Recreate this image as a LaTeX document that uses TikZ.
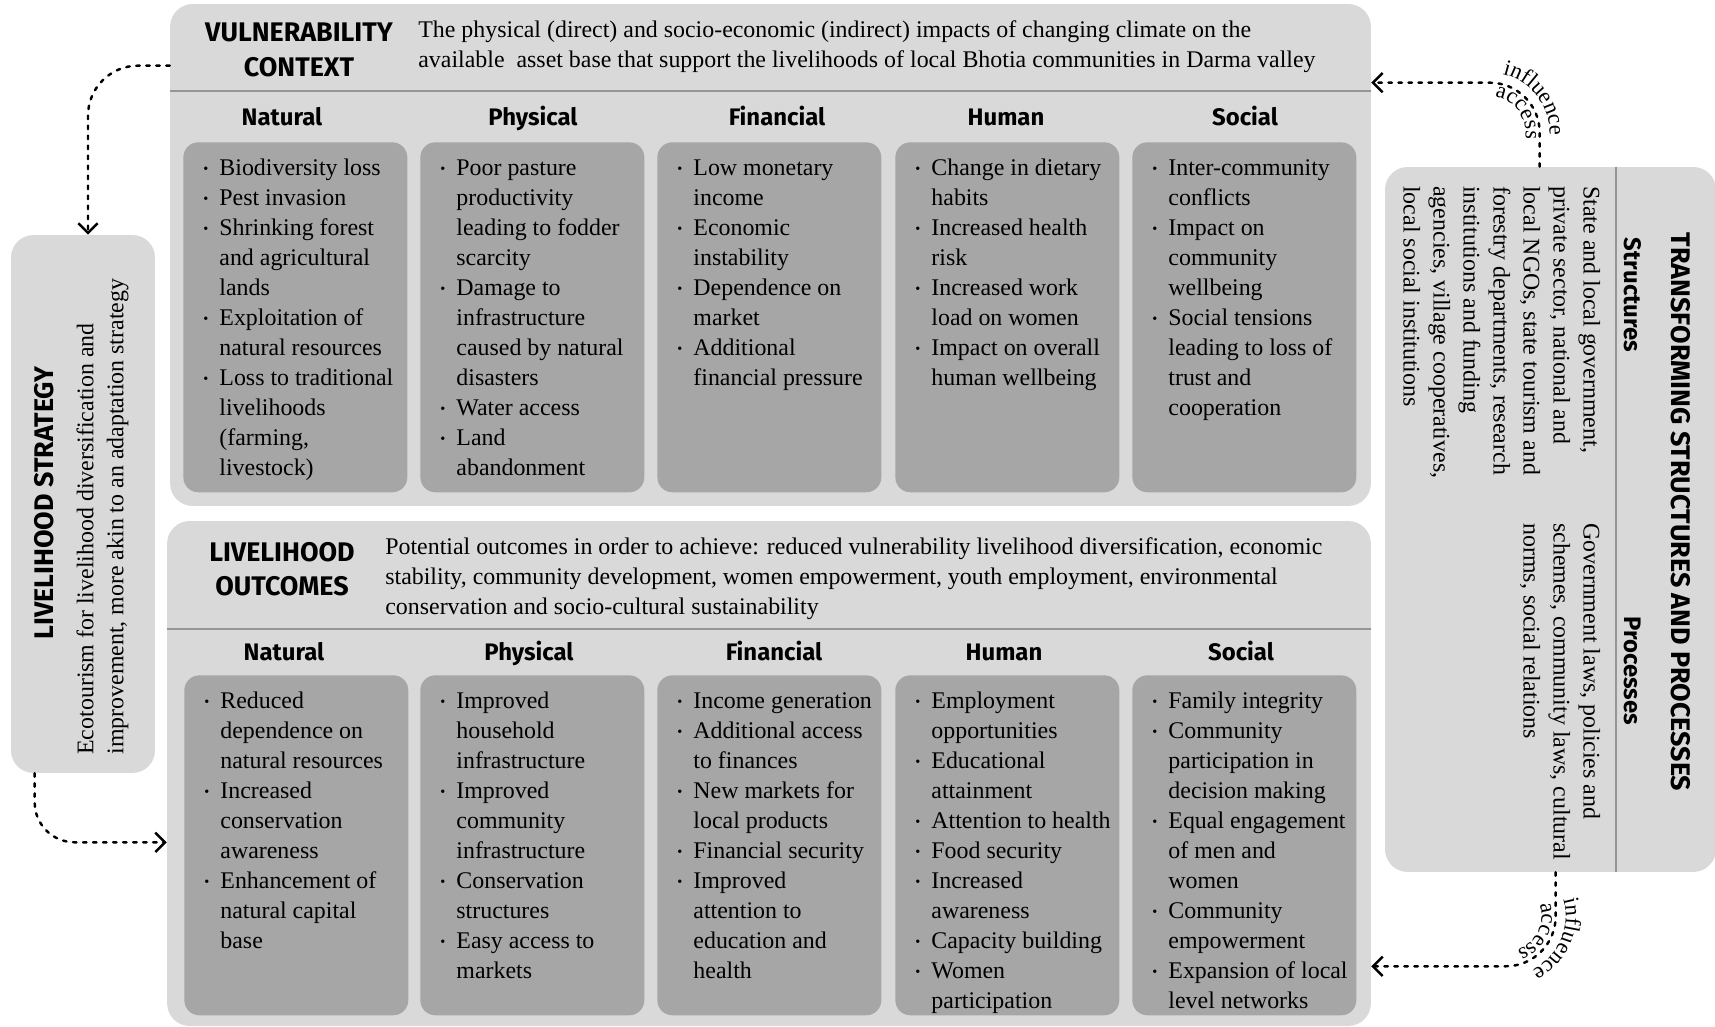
\documentclass[tikz,border=0pt]{standalone}
\usepackage{fontspec}
\usepackage{graphicx}
\setmainfont{Liberation Serif}
\newfontfamily\headfont{Fira Sans}
\usetikzlibrary{arrows.meta,calc,decorations.text}

\definecolor{panelgray}{RGB}{217,217,217}
\definecolor{cellgray}{RGB}{166,166,166}
\definecolor{rulegray}{RGB}{150,150,150}

\newcommand{\bodyfont}{\fontsize{13.6}{17.07}\selectfont}
\newcommand{\titlefont}{\headfont\bfseries\fontsize{15.3}{19.5}\selectfont}
\newcommand{\colfont}{\headfont\bfseries\fontsize{13.6}{15}\selectfont}
\newcommand{\arcfont}{\fontsize{12.8}{15}\selectfont}
\newcommand{\blt}{\raisebox{0.2ex}{\scalebox{0.6}{\textbullet}}}
\newcommand{\itemlist}[1]{\begin{tabular}{@{}c@{\hspace{6.3pt}}l@{}}#1\end{tabular}}
\newcommand{\textlines}[1]{\begin{tabular}{@{}l@{}}#1\end{tabular}}

\begin{document}
\begin{tikzpicture}[x=0.02cm, y=0.02cm,
    panel/.style={fill=panelgray, rounded corners=0.45cm, inner sep=0pt},
    cell/.style={fill=cellgray, rounded corners=0.3cm, inner sep=0pt, minimum width=4.48cm, anchor=north west},
    list/.style={anchor=north west, inner sep=0pt, font=\bodyfont},
    colhead/.style={anchor=base, inner sep=0pt, font=\colfont},
    title/.style={inner sep=0pt, align=center, font=\titlefont},
    divider/.style={draw=rulegray, line width=1.2pt},
    flow/.style={line width=1.4pt, dash pattern=on 2pt off 3.7pt, line cap=round,
      -{Straight Barb[length=5.5pt,width=11pt]}},
    arclabel/.style={decorate, decoration={text along path, text align=center}}]
    \useasboundingbox (0,0) rectangle (1715,1027);

    % panels
    \node[panel, minimum width=24.02cm, minimum height=10.04cm] (vuln) at (770.5,772) {};
    \node[panel, minimum width=24.08cm, minimum height=10.1cm] (outc) at (769,253.5) {};
    \node[panel, minimum width=2.88cm, minimum height=10.76cm] (strategy) at (83,523) {};
    \node[panel, minimum width=6.62cm, minimum height=14.1cm] (trans) at (1550.5,507.5) {};

    \draw[divider] ($(vuln.north west)+(0,-87)$) -- ($(vuln.north east)+(0,-87)$);
    \draw[divider] ($(outc.north west)+(0,-108)$) -- ($(outc.north east)+(0,-108)$);
    \draw[divider] ($(trans.north west)+(231,0)$) -- ($(trans.south west)+(231,0)$);

    % asset boxes
    \foreach \x [count=\i] in {183,420,657,895,1132}
        \node[cell, minimum height=7cm] (vb\i) at (\x,885) {};
    \foreach \x [count=\i] in {184,420,657,895,1132}
        \node[cell, minimum height=6.8cm] (ob\i) at (\x,352) {};

    \foreach \x/\t [count=\i] in {282/Natural,533/Physical,777/Financial,1006/Human,1245/Social}
        \node[colhead] (vh\i) at (\x,901) {\t};
    \foreach \x/\t [count=\i] in {284/Natural,529/Physical,774/Financial,1004/Human,1241/Social}
        \node[colhead] (oh\i) at (\x,366) {\t};

    % headings
    \node[title] (vtitle) at (299,977) {VULNERABILITY\\CONTEXT};
    \node[list] (vdesc) at (418,1011) {\textlines{The physical (direct) and socio-economic (indirect) impacts of changing climate on the\\
        available~ asset base that support the livelihoods of local Bhotia communities in Darma valley}};
    \node[title] (otitle) at (282,458) {LIVELIHOOD\\OUTCOMES};
    \node[list] (odesc) at (385,494) {\textlines{Potential outcomes in order to achieve: reduced vulnerability livelihood diversification, economic\\
        stability, community development, women empowerment, youth employment, environmental\\
        conservation and socio-cultural sustainability}};

    \node[title, rotate=90] (stitle) at (44,524) {LIVELIHOOD STRATEGY};
    \node[list, rotate=90] (sdesc) at (72,272) {\textlines{Ecotourism for livelihood diversification and\\
        improvement, more akin to an adaptation strategy}};

    \node[title, rotate=-90] (ttitle) at (1681,515) {TRANSFORMING STRUCTURES AND PROCESSES};
    \node[colhead, anchor=center, rotate=-90] (shead) at (1633,732) {Structures};
    \node[colhead, anchor=center, rotate=-90] (phead) at (1633,356) {Processes};
    \node[list, rotate=-90] (stext) at (1605,841) {\textlines{State and local government,\\
        private sector, national and\\ local NGOs, state tourism and\\ forestry departments, research\\
        institutions and funding\\ agencies, village cooperatives,\\ local social institutions}};
    \node[list, rotate=-90] (ptext) at (1605,504) {\textlines{Government laws, policies and\\
        schemes, community laws, cultural\\ norms, social relations}};

    % vulnerability lists
    \node[list] (vt1) at ($(vb1.north west)+(20,-12)$) {\itemlist{
        \blt & Biodiversity loss\\
        \blt & Pest invasion\\
        \blt & Shrinking forest\\ & and agricultural\\ & lands\\
        \blt & Exploitation of\\ & natural resources\\
        \blt & Loss to traditional\\ & livelihoods\\ & (farming,\\ & livestock)}};
    \node[list] (vt2) at ($(vb2.north west)+(20,-12)$) {\itemlist{
        \blt & Poor pasture\\ & productivity\\ & leading to fodder\\ & scarcity\\
        \blt & Damage to\\ & infrastructure\\ & caused by natural\\ & disasters\\
        \blt & Water access\\
        \blt & Land\\ & abandonment}};
    \node[list] (vt3) at ($(vb3.north west)+(20,-12)$) {\itemlist{
        \blt & Low monetary\\ & income\\
        \blt & Economic\\ & instability\\
        \blt & Dependence on\\ & market\\
        \blt & Additional\\ & financial pressure}};
    \node[list] (vt4) at ($(vb4.north west)+(20,-12)$) {\itemlist{
        \blt & Change in dietary\\ & habits\\
        \blt & Increased health\\ & risk\\
        \blt & Increased work\\ & load on women\\
        \blt & Impact on overall\\ & human wellbeing}};
    \node[list] (vt5) at ($(vb5.north west)+(20,-12)$) {\itemlist{
        \blt & Inter-community\\ & conflicts\\
        \blt & Impact on\\ & community\\ & wellbeing\\
        \blt & Social tensions\\ & leading to loss of\\ & trust and\\ & cooperation}};

    % outcome lists
    \node[list] (ot1) at ($(ob1.north west)+(20,-12)$) {\itemlist{
        \blt & Reduced\\ & dependence on\\ & natural resources\\
        \blt & Increased\\ & conservation\\ & awareness\\
        \blt & Enhancement of\\ & natural capital\\ & base}};
    \node[list] (ot2) at ($(ob2.north west)+(20,-12)$) {\itemlist{
        \blt & Improved\\ & household\\ & infrastructure\\
        \blt & Improved\\ & community\\ & infrastructure\\
        \blt & Conservation\\ & structures\\
        \blt & Easy access to\\ & markets}};
    \node[list] (ot3) at ($(ob3.north west)+(20,-12)$) {\itemlist{
        \blt & Income generation\\
        \blt & Additional access\\ & to finances\\
        \blt & New markets for\\ & local products\\
        \blt & Financial security\\
        \blt & Improved\\ & attention to\\ & education and\\ & health}};
    \node[list] (ot4) at ($(ob4.north west)+(20,-12)$) {\itemlist{
        \blt & Employment\\ & opportunities\\
        \blt & Educational\\ & attainment\\
        \blt & Attention to health\\
        \blt & Food security\\
        \blt & Increased\\ & awareness\\
        \blt & Capacity building\\
        \blt & Women\\ & participation}};
    \node[list] (ot5) at ($(ob5.north west)+(20,-12)$) {\itemlist{
        \blt & Family integrity\\
        \blt & Community\\ & participation in\\ & decision making\\
        \blt & Equal engagement\\ & of men and\\ & women\\
        \blt & Community\\ & empowerment\\
        \blt & Expansion of local\\ & level networks}};

    % connectors
    \draw[flow, rounded corners=1cm] ($(vuln.north west)+(0,-62)$) -| ($(strategy.north)+(5,0)$);
    \draw[flow, rounded corners=0.8cm] ($(strategy.south west)+(24,0)$) |- ($(outc.south west)+(0,184)$);
    \draw[flow, rounded corners=1cm] ($(trans.north west)+(155,0)$) |- ($(vuln.north east)+(0,-79)$);
    \draw[flow, rounded corners=1cm] ($(trans.south west)+(171,0)$) |- ($(outc.south east)+(0,60)$);

    % influence / access
    \coordinate (tr) at ($(trans.north west)+(105,34)$);
    \coordinate (br) at ($(trans.south west)+(121,-44)$);
    \path[arclabel, decoration={text={|\arcfont|influence}}] ($(tr)+(90:1.2cm)$) arc[start angle=90, end angle=-15, radius=1.2cm];
    \path[arclabel, decoration={text={|\arcfont|access}}] ($(tr)+(92:0.72cm)$) arc[start angle=92, end angle=-20, radius=0.72cm];
    \path[arclabel, decoration={text={|\arcfont|influence}}] ($(br)+(22:1.2cm)$) arc[start angle=22, end angle=-70, radius=1.2cm];
    \path[arclabel, decoration={text={|\arcfont|access}}] ($(br)+(32:0.72cm)$) arc[start angle=32, end angle=-84, radius=0.72cm];
\end{tikzpicture}
\end{document}
